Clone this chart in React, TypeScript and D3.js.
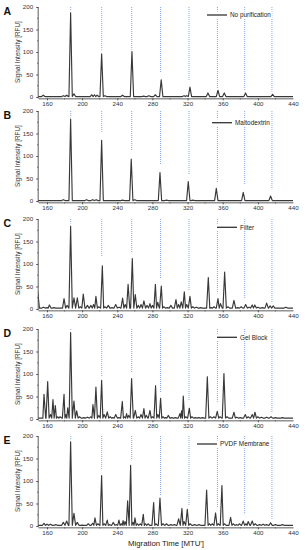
import { useEffect, useRef } from 'react';
import * as d3 from 'd3';

type Peak = [number, number];

const PANEL_LABELS = ['A', 'B', 'C', 'D', 'E'];
const LEGEND_NAMES = ['No purification', 'Maltodextrin', 'Filter', 'Gel Block', 'PVDF Membrane'];
const X_TICKS = [160, 200, 240, 280, 320, 360, 400, 440];
const X_MINOR = [180, 220, 260, 300, 340, 380, 420];
const Y_TICKS = [0, 50, 100, 150, 200];
const Y_MINOR = [25, 75, 125, 175];

// positions of the reference (maltodextrin ladder) peaks, shown as blue dotted guides
const GUIDE_POS = [187, 222.3, 256.4, 289.3, 321.6, 354, 385, 416];
// value at which each guide stops above the trace, per panel
const GUIDE_END = [
  [192, 105, 105, 55, 38, 18, 15, 12],
  [186, 154, 113, 80, 58, 40, 36, 26],
  [190, 116, 124, 68, 42, 35, 24, 13],
  [196, 94, 102, 58, 42, 38, 26, 13],
  [191, 124, 146, 68, 45, 41, 26, 16],
];

const BASELINES = [1, 1, 2, 2, 1.5];

// [migration time, signal]
const PEAKS_A: Peak[] = [
  [155.8, 4], [178.6, 3], [182.4, 4], [186.9, 187], [190.7, 7], [211, 5], [214, 5], [217, 4],
  [222.2, 96], [226, 3], [246, 4], [256.7, 101], [270, 2], [276, 3], [283.3, 5], [290, 38],
  [316, 3], [319, 3], [322.7, 22], [343.2, 9], [354.6, 15], [361.8, 9], [386, 9], [416.8, 6],
];
const PEAKS_B: Peak[] = [
  [178.6, 3], [186.9, 182], [205, 3], [212, 3], [216, 3], [222.2, 135], [246, 2], [255.9, 93],
  [260, 3], [288.6, 63], [296, 2], [320.8, 43], [326, 2], [352.7, 28], [383.4, 19], [414.5, 11],
];
const PEAKS_C: Peak[] = [
  [149.5, 38], [156, 4], [160, 3], [162.7, 9], [168, 3], [172, 2], [176, 2], [179.4, 23], [183, 8],
  [186.9, 184], [190.7, 25], [194.5, 25], [198, 5], [201.3, 33], [206, 8], [210, 8], [213, 10],
  [215.7, 28], [219, 5], [223, 96], [226, 5], [229.8, 8], [234, 3], [238.2, 10], [242, 4],
  [246.1, 24], [249, 10], [252.3, 55], [257.1, 112], [260.5, 32], [264, 8], [267, 10], [270.3, 18],
  [274, 8], [277.2, 12], [280, 8], [283.4, 55], [286, 15], [290.1, 51], [293, 5], [297, 3],
  [301, 8], [306.8, 21], [309.8, 10], [312.8, 16], [316.3, 38], [319, 10], [322.7, 28], [326, 5],
  [330, 4], [335, 3], [343.6, 70], [347, 3], [350, 5], [354.6, 23], [357.5, 12], [362.2, 82],
  [366, 5], [372.8, 19], [377, 3], [381, 5], [386.1, 10], [390, 4], [393.6, 9], [396.5, 9],
  [400, 4], [405, 3], [410, 13], [414, 7], [417.5, 7], [423, 2], [431.9, 4],
];
const PEAKS_D: Peak[] = [
  [154, 2], [156.6, 55], [160.8, 83], [164, 10], [166.8, 43], [169.5, 30], [172, 5], [175, 5],
  [179.4, 55], [181.5, 10], [183.6, 25], [186.9, 192], [190.7, 40], [193.8, 18], [197, 5],
  [202, 3], [206, 4], [210, 5], [212.3, 32], [215.7, 71], [219, 8], [222.2, 86], [225, 10],
  [228.6, 16], [232, 5], [235, 3], [238.2, 10], [242, 3], [245.7, 39], [248.3, 5], [250.6, 12],
  [253, 8], [256.3, 90], [260.5, 19], [264, 5], [267, 10], [270.3, 23], [273, 8], [277.2, 19],
  [280, 5], [283.6, 74], [286.2, 10], [289.3, 46], [292, 5], [295, 3], [298, 8], [302, 3],
  [306, 3], [311.3, 12], [313.2, 18], [315.1, 51], [318, 5], [322, 24], [325, 5], [329, 3],
  [333, 3], [337, 3], [342.5, 94], [346, 5], [350, 5], [353.8, 17], [357, 5], [361.4, 101],
  [365, 5], [372.8, 15], [376, 4], [380, 3], [385.7, 10], [389, 5], [393.6, 10], [396.7, 15],
  [400, 5], [404, 4], [410, 4], [415, 5], [420, 3], [428, 3],
];
const PEAKS_E: Peak[] = [
  [156.6, 6], [160, 4], [164, 4], [170, 3], [178.6, 8], [182.4, 11], [186.9, 187], [190.7, 28],
  [194.5, 8], [200, 2], [207, 5], [212, 6], [214.6, 18], [218, 5], [222.2, 112], [225, 5],
  [228.6, 13], [231, 3], [235.5, 8], [239, 3], [241.9, 13], [244.5, 5], [246.6, 12], [248.8, 10],
  [251.8, 56], [255.2, 135], [258, 8], [260.1, 18], [263, 5], [266, 5], [269.6, 26], [272, 5],
  [275, 5], [281.4, 52], [284, 5], [288.6, 62], [292, 5], [296, 5], [301, 3], [305, 3],
  [309.8, 16], [313.6, 39], [316, 10], [319.7, 37], [323, 5], [328, 3], [333, 3], [341.7, 80],
  [345, 5], [348, 5], [351.9, 29], [355, 5], [359.1, 90], [362, 5], [369, 19], [372, 5],
  [376, 3], [379, 5], [383.4, 11], [386.5, 5], [389, 10], [393.6, 11], [397, 5], [402, 3],
  [406, 4], [410, 3], [414.5, 7], [420, 3], [428, 3],
];
const PEAKS = [PEAKS_A, PEAKS_B, PEAKS_C, PEAKS_D, PEAKS_E];

// layout
const W = 305;
const H = 550;
const PANEL_TOP = [7, 111, 219, 329, 436];
const PANEL_H = 90;
const LEGEND_X = [207, 212, 217, 217, 197];
const LEGEND_DY = [8, 11.7, 8.3, 8.3, 8];
const HALF_WIDTH = 1.9;
const FONT = '"Liberation Sans", Arial, sans-serif';

function buildTrace(peaks: Peak[], base: number): [number, number][] {
  const pts: [number, number][] = [[140, base]];
  peaks.forEach(([p, h], i) => {
    const prev = i > 0 ? peaks[i - 1][0] : -Infinity;
    const next = i < peaks.length - 1 ? peaks[i + 1][0] : Infinity;
    const l = Math.max(p - HALF_WIDTH, (p + prev) / 2);
    const r = Math.min(p + HALF_WIDTH, (p + next) / 2);
    if (l > pts[pts.length - 1][0]) pts.push([l, base]);
    pts.push([p, h]);
    pts.push([r, base]);
  });
  pts.push([445, base]);
  return pts;
}

export default function App() {
  const svgRef = useRef<SVGSVGElement>(null);

  useEffect(() => {
    if (!svgRef.current) return;
    const svg = d3.select(svgRef.current);
    svg.selectAll('*').remove();

    const x = d3.scaleLinear().domain([150, 440]).range([38.2, 293]);

    PANEL_LABELS.forEach((label, pi) => {
      const top = PANEL_TOP[pi];
      const y = d3.scaleLinear().domain([0, 200]).range([top + PANEL_H, top]);
      const axisY = y(-3);
      const g = svg.append('g');

      const clipId = `clip-${pi}`;
      g.append('clipPath')
        .attr('id', clipId)
        .append('rect')
        .attr('x', x(150))
        .attr('y', top - 2)
        .attr('width', x(440) - x(150))
        .attr('height', axisY - top + 2);

      // guides
      g.selectAll('.guide')
        .data(GUIDE_POS)
        .join('line')
        .attr('x1', (d: number) => x(d))
        .attr('x2', (d: number) => x(d))
        .attr('y1', y(200))
        .attr('y2', (_d: number, i: number) => y(GUIDE_END[pi][i]))
        .attr('stroke', '#84a9e8')
        .attr('stroke-width', 1)
        .attr('stroke-dasharray', '1,1');

      // legend with white backing
      const lg = g.append('g').attr('transform', `translate(${LEGEND_X[pi]},${top + LEGEND_DY[pi]})`);
      const bg = lg.append('rect').attr('fill', '#fff');
      lg.append('line')
        .attr('x1', 0).attr('x2', 20).attr('y1', 0).attr('y2', 0)
        .attr('stroke', '#333').attr('stroke-width', 1.3);
      const lt = lg.append('text')
        .attr('x', 23).attr('y', 0).attr('dy', '0.35em')
        .style('font-family', FONT).style('font-size', '6.4px').style('fill', '#222')
        .text(LEGEND_NAMES[pi]);
      const tw = (lt.node() as SVGTextElement).getComputedTextLength();
      bg.attr('x', -1.5).attr('y', -3.5).attr('width', tw + 26).attr('height', 7);

      // trace
      const line = d3.line<[number, number]>()
        .x((d) => x(d[0]))
        .y((d) => y(d[1]));
      g.append('path')
        .datum(buildTrace(PEAKS[pi], BASELINES[pi]))
        .attr('clip-path', `url(#${clipId})`)
        .attr('d', line)
        .attr('fill', 'none')
        .attr('stroke', '#383838')
        .attr('stroke-width', 1.15)
        .attr('stroke-linejoin', 'round');

      // axes
      const xAxis = g.append('g').attr('transform', `translate(0,${axisY})`);
      xAxis.call(d3.axisBottom(x).tickValues(X_TICKS).tickSize(2).tickSizeOuter(0).tickPadding(1.2)
        .tickFormat((d: d3.NumberValue) => `${d.valueOf()}`));
      xAxis.selectAll('.tick').filter((d: any) => d === 440).select('line').remove();
      xAxis.selectAll('line, path').attr('stroke', '#333').attr('stroke-width', 0.8);
      xAxis.selectAll('text').style('font-family', FONT).style('font-size', '6.2px').style('fill', '#333');
      xAxis.selectAll('.minor')
        .data(X_MINOR)
        .join('line')
        .attr('x1', (d: number) => x(d)).attr('x2', (d: number) => x(d))
        .attr('y1', 0).attr('y2', 1.2)
        .attr('stroke', '#333').attr('stroke-width', 0.6);

      const yAxis = g.append('g').attr('transform', `translate(${x(150)},0)`);
      yAxis.call(d3.axisLeft(y).tickValues(Y_TICKS).tickSize(2).tickSizeOuter(0).tickPadding(3));
      yAxis.select('.domain').attr('d', `M0,${y(200)}V${axisY}`);
      yAxis.selectAll('line, path').attr('stroke', '#333').attr('stroke-width', 0.8);
      yAxis.selectAll('text').style('font-family', FONT).style('font-size', '6.2px').style('fill', '#333');
      yAxis.selectAll('.minor')
        .data(Y_MINOR)
        .join('line')
        .attr('x1', 0).attr('x2', -1.2)
        .attr('y1', (d: number) => y(d)).attr('y2', (d: number) => y(d))
        .attr('stroke', '#333').attr('stroke-width', 0.6);

      // y title
      g.append('text')
        .attr('transform', `translate(17.5,${top + PANEL_H / 2}) rotate(-90)`)
        .attr('text-anchor', 'middle')
        .attr('dy', '0.35em')
        .style('font-family', FONT).style('font-size', '6.4px').style('fill', '#333')
        .text('Signal Intensity [RFU]');

      // panel letter
      g.append('text')
        .attr('x', 3.5)
        .attr('y', top + 7.8)
        .style('font-family', FONT).style('font-size', '10.5px').style('font-weight', 'bold')
        .style('fill', '#111')
        .text(label);
    });

    svg.append('text')
      .attr('x', 166)
      .attr('y', 546)
      .attr('text-anchor', 'middle')
      .style('font-family', FONT).style('font-size', '7.8px').style('fill', '#222')
      .text("Migration Time [MTU']");
  }, []);

  return (
    <svg
      ref={svgRef}
      width={W}
      height={H}
      style={{ position: 'absolute', left: 0, top: 0, background: '#fff' }}
    />
  );
}
